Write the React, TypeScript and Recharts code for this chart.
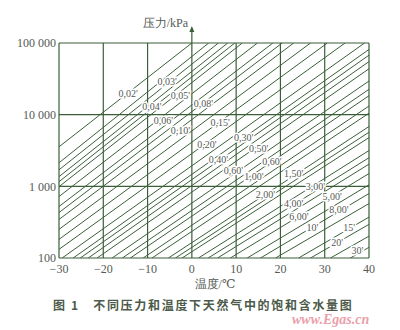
import { ComposedChart, Line, Scatter, XAxis, YAxis, CartesianGrid, ReferenceLine, ReferenceDot } from 'recharts';

const tempTicks = [-30, -20, -10, 0, 10, 20, 30, 40];
const pressureTicks = [100, 1000, 10000, 100000];

// isolines of water content: where each one enters the grid (left or bottom edge)
// and where it leaves it (top or right edge)
const startTemp = [-30, -30, -30, -30, -30, -30, -30, -30, -30, -30, -30, -30, -30,
  -29.3, -26.8, -25.2, -23.4, -21.4, -18, -15.7, -13.9, -11, -9, -5.3, -3.7, -2.2,
  1.5, 3.7, 5.8, 8.7, 12.5, 15.5, 18.9, 24.1, 26.8, 31.3, 35.8];
const startPressure = [3560, 2130, 1700, 1365, 1160, 990, 720, 523, 431, 345, 251, 182, 132,
  100, 100, 100, 100, 100, 100, 100, 100, 100, 100, 100, 100, 100,
  100, 100, 100, 100, 100, 100, 100, 100, 100, 100, 100];
const endTemp = [0, 3.8, 6, 8.1, 9.7, 11.4, 14.8, 18.3, 20.4, 23, 26.8, 30.6, 34.6,
  39, 40, 40, 40, 40, 40, 40, 40, 40, 40, 40, 40, 40,
  40, 40, 40, 40, 40, 40, 40, 40, 40, 40, 40];
const endPressure = [100000, 100000, 100000, 100000, 100000, 100000, 100000, 100000, 100000, 100000, 100000, 100000, 100000,
  100000, 81300, 67600, 55000, 43700, 29500, 22600, 18400, 13200, 10500, 6840, 5690, 4790,
  3160, 2510, 2040, 1510, 1050, 794, 575, 372, 295, 202, 141];

const labelText = ["0,02'", "0,03'", "0,05'", "0,04'", "0,08'", "0,06'", "0,10'", "0,15'", "0,30'", "0,20'",
  "0,50'", "0,40'", "0,60'", "0,60'", "1,00'", "1,50'", "2,00'", "3,00'", "4,00'", "5,00'", "8,00'", "6,00'",
  "10'", "15'", "20'", "30'"];
const labelTemp = [-14.4, -5.6, -2.6, -9, 2.6, -6.4, -2.6, 6.4, 11.7, 3.4,
  15.1, 6, 18.1, 9.4, 14, 23, 16.6, 27.9, 23, 31.7, 33.2, 24.2,
  27.2, 35.5, 32.8, 37.4];
const labelPressure = [19800, 28700, 18800, 12900, 14400, 8260, 6000, 7740, 4850, 3880,
  3410, 2350, 2220, 1650, 1350, 1530, 767, 1000, 571, 726, 474, 376,
  264, 264, 167, 129];

const isolines = startTemp.map((t, i) => [
  { t, p: startPressure[i] },
  { t: endTemp[i], p: endPressure[i] },
]);
const labels = labelText.map((text, i) => ({ t: labelTemp[i], p: labelPressure[i], text }));

const green = '#3a5f38';
const ink = '#555a55';
const serif = '"Liberation Serif", "DejaVu Serif", serif';

const fmtPressure = (v: number) => String(v).replace(/\B(?=(\d{3})+(?!\d))/g, ' ');
const fmtTemp = (v: number) => (v < 0 ? '\u2212' + Math.abs(v) : String(v));

function LabelShape(props: any) {
  const { cx, cy, payload } = props;
  return (
    <text x={cx} y={cy} dy={3.5} textAnchor="middle" fontSize={10} fontFamily={serif} fill={ink}
      stroke="#fff" strokeWidth={3} paintOrder="stroke">
      {payload.text}
    </text>
  );
}

function Arrow(props: any) {
  const { cx, cy } = props;
  return <path d={`M${cx - 2.5},${cy + 6} L${cx},${cy} L${cx + 2.5},${cy + 6} Z`} fill={green} />;
}

export default function App() {
  return (
    <div style={{ position: 'absolute', left: 0, top: 0, width: 400, height: 330, background: '#fff', fontFamily: serif }}>
      <ComposedChart width={400} height={330} margin={{ top: 43, right: 31, bottom: 52, left: 0 }}>
        <CartesianGrid stroke={green} strokeWidth={1.2} />
        <XAxis type="number" dataKey="t" domain={[-30, 40]} ticks={tempTicks} allowDataOverflow
          height={20} axisLine={false} tickLine={false} tickSize={0} tickMargin={6}
          tickFormatter={fmtTemp} tick={{ fill: ink, fontSize: 12, fontFamily: serif }} />
        <YAxis type="number" dataKey="p" scale="log" domain={[100, 100000]} ticks={pressureTicks} allowDataOverflow
          width={59} axisLine={false} tickLine={false} tickSize={0} tickMargin={3}
          tickFormatter={fmtPressure} tick={{ fill: ink, fontSize: 12, fontFamily: serif }} />
        {isolines.map((d, i) => (
          <Line key={i} data={d} dataKey="p" type="linear" stroke={green} strokeWidth={1}
            dot={false} activeDot={false} isAnimationActive={false} />
        ))}
        <ReferenceLine segment={[{ x: 0, y: 100000 }, { x: 0, y: 160000 }]} stroke={green} strokeWidth={1.2} ifOverflow="visible" />
        <ReferenceDot x={0} y={172000} r={0} shape={Arrow} ifOverflow="visible" />
        <Scatter data={labels} dataKey="p" shape={LabelShape} isAnimationActive={false} />
      </ComposedChart>
      <div style={{ position: 'absolute', left: 100, width: 88, top: 15, textAlign: 'right', fontSize: 12, color: ink }}>
        压力/kPa
      </div>
      <div style={{ position: 'absolute', left: 180, width: 70, top: 276, textAlign: 'center', fontSize: 12, color: ink }}>
        温度/℃
      </div>
      <div style={{ position: 'absolute', left: 53, top: 296, fontSize: 12, fontWeight: 600, color: '#4c5a4a',
        fontFamily: '"Noto Sans CJK SC", sans-serif', whiteSpace: 'pre', letterSpacing: 1.7 }}>
        {'图 1   不同压力和温度下天然气中的饱和含水量图'}
      </div>
      <div style={{ position: 'absolute', left: 292, top: 312, fontSize: 14, fontStyle: 'italic', fontWeight: 700,
        color: '#eaa0ab', fontFamily: serif }}>
        www.Egas.cn
      </div>
    </div>
  );
}
